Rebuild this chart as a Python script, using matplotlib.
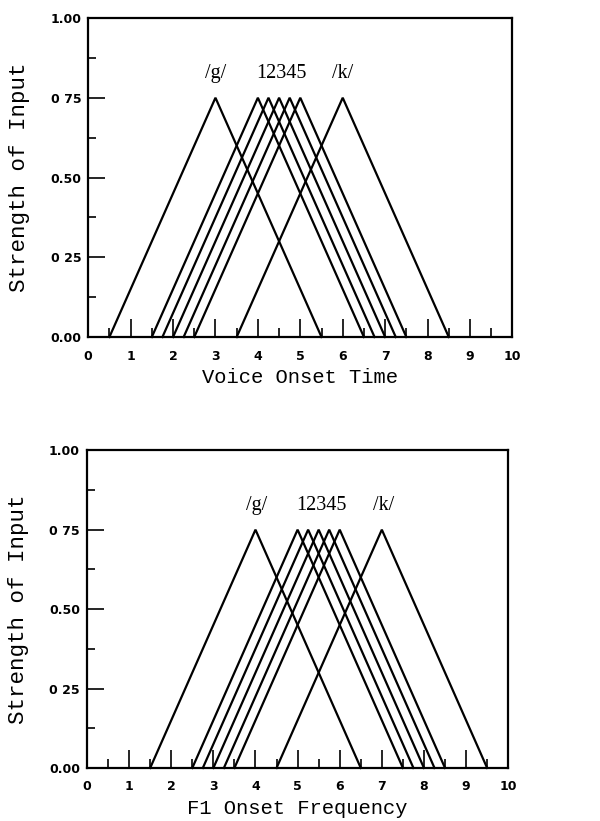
import matplotlib
matplotlib.use('Agg')
import matplotlib.pyplot as plt
from matplotlib.ticker import MultipleLocator

# Triangular input functions: peak position, half base width, peak height
vot_peaks = [3.0, 4.0, 4.25, 4.5, 4.75, 5.0, 6.0]
f1_peaks = [4.0, 5.0, 5.25, 5.5, 5.75, 6.0, 7.0]
half_width = 2.5
peak_height = 0.75

labels = ['/g/', '12345', '/k/']
vot_label_x = [3.0, 4.55, 6.0]
f1_label_x = [4.03, 5.56, 7.05]
label_y = 0.825

y_ticks = [0.0, 0.25, 0.5, 0.75, 1.0]
y_ticklabels = ['0.00', '0 25', '0.50', '0 75', '1.00']
x_ticks = list(range(0, 11))

mono = 'Liberation Mono'

fig = plt.figure(figsize=(6, 8.21), dpi=100)
ax_top = fig.add_axes([0.147, 0.5895, 0.707, 0.3886])
ax_bot = fig.add_axes([0.145, 0.0646, 0.702, 0.387])


def draw_panel(ax, peaks, label_x, xlabel):
    for c in peaks:
        ax.plot([c - half_width, c, c + half_width], [0, peak_height, 0],
                color='black', lw=1.6, solid_joinstyle='miter', clip_on=False)
    for t, x in zip(labels, label_x):
        ax.text(x, label_y, t, ha='center', va='center', fontsize=14.5,
                family='Liberation Serif')
    ax.set_xlim(0, 10)
    ax.set_ylim(0, 1)
    ax.set_xticks(x_ticks)
    ax.set_xticklabels([str(v) for v in x_ticks], fontsize=9, fontweight='bold')
    ax.xaxis.set_minor_locator(MultipleLocator(0.5))
    ax.set_yticks(y_ticks)
    ax.set_yticklabels(y_ticklabels, fontsize=9, fontweight='bold')
    ax.yaxis.set_minor_locator(MultipleLocator(0.125))
    ax.tick_params(axis='x', which='major', direction='in', length=13,
                   width=1.2, pad=9, top=False)
    ax.tick_params(axis='x', which='minor', direction='in', length=6.5,
                   width=1.2, top=False)
    ax.tick_params(axis='y', which='major', direction='in', length=12.5,
                   width=1.2, pad=5, right=False)
    ax.tick_params(axis='y', which='minor', direction='in', length=6,
                   width=1.2, right=False)
    for s in ax.spines.values():
        s.set_linewidth(1.6)
    ax.set_xlabel(xlabel, fontsize=14.8, family=mono)
    ax.xaxis.set_label_coords(0.5, -0.097)
    ax.set_ylabel('Strength of Input', fontsize=16.2, family=mono)
    ax.yaxis.set_label_coords(-0.137, 0.5)


draw_panel(ax_top, vot_peaks, vot_label_x, 'Voice Onset Time')
draw_panel(ax_bot, f1_peaks, f1_label_x, 'F1 Onset Frequency')

plt.savefig('out.png', dpi=100)
